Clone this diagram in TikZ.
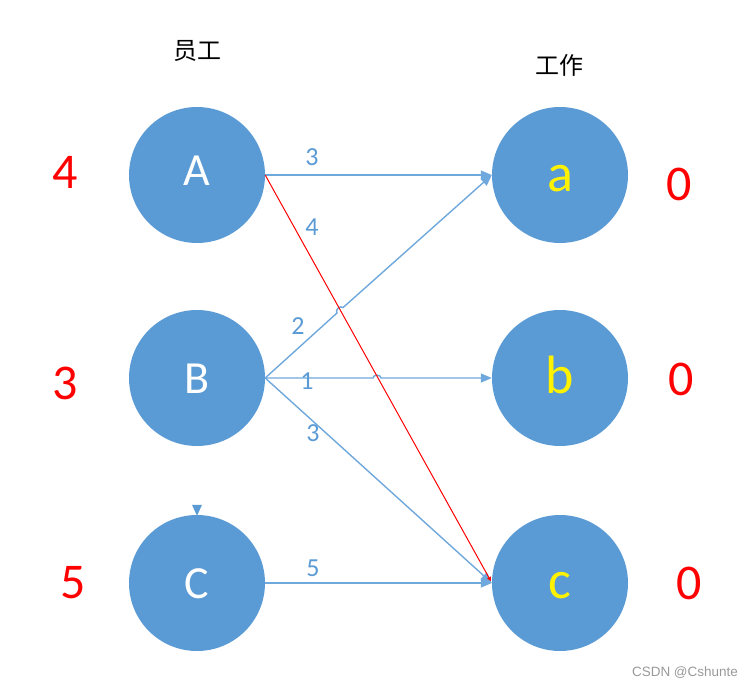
\documentclass[tikz,border=0pt]{standalone}
\usepackage{fontspec}
\setmainfont{Carlito}
\newfontfamily\cjk{Noto Sans CJK SC}
\newfontfamily\wmfont{Liberation Sans}
\usetikzlibrary{arrows.meta,calc}
\definecolor{nodeblue}{HTML}{5B9BD5}
\definecolor{edgeblue}{HTML}{6FA8DC}
\definecolor{txtblue}{HTML}{5B9BD5}
\begin{document}
\begin{tikzpicture}[x=1pt,y=-1pt,
  circ/.style={circle,fill=nodeblue,minimum size=136pt,inner sep=0pt},
  upper/.style={anchor=base,text=white,font=\fontsize{46}{46}\selectfont},
  lower/.style={anchor=base,text=yellow,font=\fontsize{54}{54}\selectfont},
  rednum/.style={anchor=base,text=red,font=\fontsize{50}{50}\selectfont},
  elabel/.style={anchor=base,text=txtblue,font=\fontsize{26}{26}\selectfont},
  edge/.style={draw=edgeblue,line width=1.4pt,-{Triangle[length=11pt,width=9pt]}},
  rededge/.style={draw=red,line width=1pt,-{Triangle[length=4pt,width=4pt]}},
  header/.style={font=\cjk\fontsize{24}{24}\selectfont}]
\useasboundingbox (0,0) rectangle (747,686);
% nodes
\node[circ] (A) at (197,175) {};
\node[circ] (B) at (197,378) {};
\node[circ] (C) at (197,583) {};
\node[circ] (a) at (560,175) {};
\node[circ] (b) at (560,378) {};
\node[circ] (c) at (560,583) {};
\node[upper] (At) at (197,185) {A};
\node[upper] (Bt) at (197,393) {B};
\node[upper] (Ct) at (197,598) {C};
\node[lower] (at) at (560,191) {a};
\node[lower] (bt) at (560,393) {b};
\node[lower] (ct) at (560,598) {c};
% headers
\node[header] (h1) at (197,51) {员工};
\node[header] (h2) at (559,65) {工作};
% red numbers
\node[rednum] (n1) at (65,188) {4};
\node[rednum] (n2) at (65,399) {3};
\node[rednum] (n3) at (73,598) {5};
\node[rednum] (n4) at (679,200) {0};
\node[rednum] (n5) at (681,395) {0};
\node[rednum] (n6) at (689,599) {0};
% hop coordinates
\coordinate (hopa1) at (337,313);
\coordinate (hopa2) at (343,307.6);
\coordinate (hopb1) at (373,378);
\coordinate (hopb2) at (381,378);
% edges
\draw[edge] (A.east) -- (a.west);
\draw[edge] (B.east) -- (hopa1) to[bend left=90,looseness=1.2] (hopa2) -- (a.west);
\draw[edge] (B.east) -- (hopb1) to[bend left=90,looseness=1.2] (hopb2) -- (b.west);
\draw[edge] (B.east) -- (c.west);
\draw[edge] (C.east) -- (c.west);
\draw[rededge] (A.east) -- ($(c.west)+(-1,-2)$);
% small triangle above C
\fill[nodeblue] ($(C.north)+(-5,-10)$) -- ($(C.north)+(5,-10)$) -- ($(C.north)+(0,1)$) -- cycle;
% edge labels
\node[elabel] (l1) at (312,165) {3};
\node[elabel] (l2) at (312,235) {4};
\node[elabel] (l3) at (298,334) {2};
\node[elabel] (l4) at (307,389) {1};
\node[elabel] (l5) at (313,441) {3};
\node[elabel] (l6) at (313,576) {5};
% watermark
\node[text=gray!80,font=\wmfont\fontsize{13.5}{13.5}\selectfont] (wm) at (685,673) {CSDN @Cshunte};
\end{tikzpicture}
\end{document}
